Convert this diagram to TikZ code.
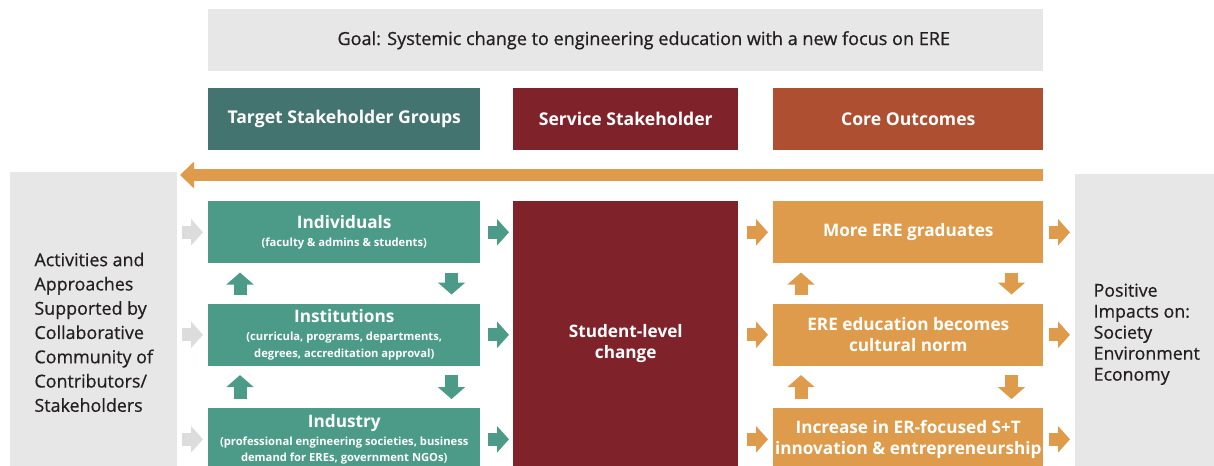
\documentclass[tikz,border=0pt]{standalone}
\usepackage{fontspec}
\setmainfont{Open Sans}
\newfontfamily\semib{Open Sans}[FakeBold=0.6]
\usetikzlibrary{positioning,calc,arrows.meta}

\definecolor{panelgray}{HTML}{E6E7E6}
\definecolor{arrowgray}{HTML}{DCDCDC}
\definecolor{headteal}{HTML}{43746F}
\definecolor{boxteal}{HTML}{4C9B89}
\definecolor{darkred}{HTML}{80222A}
\definecolor{rust}{HTML}{AF4F31}
\definecolor{ochre}{HTML}{DE9B4B}
\definecolor{inkblack}{HTML}{231F20}

\newcommand{\subf}{\fontsize{8.4}{10}\selectfont}

\tikzset{
  panel/.style={rectangle, fill=panelgray, inner sep=0pt, minimum height=240pt, align=left, text=inkblack},
  head/.style={rectangle, inner sep=0pt, minimum height=46.5pt, text=white, font=\bfseries\fontsize{13.2}{15}\selectfont},
  stage/.style={rectangle, inner sep=0pt, minimum height=46.5pt, align=center, text=white, font=\bfseries\fontsize{12.9}{15.5}\selectfont},
  grp/.style={stage, fill=boxteal, minimum width=204pt},
  outc/.style={stage, fill=ochre, minimum width=202.5pt},
  harrow/.style={line width=9.75pt, -{Triangle[length=9pt,width=19.5pt]}},
  varrow/.style={line width=9.75pt, -{Triangle[length=9pt,width=20pt]}, shorten <=6.75pt, shorten >=6.75pt},
}

\begin{document}
\begin{tikzpicture}[x=0.75pt, y=-0.75pt]
  \useasboundingbox (0,0) rectangle (1214,465);

  % goal and headers
  \node[rectangle, fill=panelgray, minimum width=626.25pt, minimum height=46.5pt, inner sep=0pt, anchor=north west,
        font=\semib\fontsize{13.55}{15}\selectfont, text=inkblack] (goal) at (208,9)
        {\hspace*{27pt}Goal: Systemic change to engineering education with a new focus on ERE};
  \node[head, fill=headteal, minimum width=204pt, anchor=north west] (tsg) at (208,88) {Target Stakeholder Groups};
  \node[head, fill=darkred, minimum width=168.75pt, anchor=north west] (svc) at (513,88) {Service Stakeholder};
  \node[head, fill=rust, minimum width=202.5pt, anchor=north west] (core) at (773,88) {Core Outcomes};

  % feedback arrow
  \coordinate (loopR) at (1043,175);
  \coordinate (loopL) at (180,175);
  \draw[ochre, line width=9pt, -{Triangle[length=10.5pt,width=19.5pt]}] (loopR) -- (loopL);

  % side panels
  \node[panel, minimum width=125.25pt, anchor=north west, font=\semib\fontsize{13.4}{18.2}\selectfont] (acts) at (10,172)
        {Activities and\\Approaches\\Supported by\\Collaborative\\Community of\\Contributors/\\Stakeholders};
  \node[panel, minimum width=107.25pt, anchor=north west, font=\semib\fontsize{13.3}{15.75}\selectfont] (impact) at (1075,174)
        {Positive\\Impacts on:\\Society\\Environment\\Economy};

  % target stakeholder groups
  \node[grp, anchor=north west] (ind) at (208,201)
        {Individuals\\[-2pt]\subf (faculty \& admins \& students)};
  \node[grp, below=30pt of ind] (ins)
        {Institutions\\[-2pt]\subf (curricula, programs, departments,\\[-3pt]\subf degrees, accreditation approval)};
  \node[grp, below=31.5pt of ins] (inds)
        {Industry\\[-2pt]\subf (professional engineering societies, business\\[-3pt]\subf demand for EREs, government NGOs)};

  % service stakeholder
  \node[stage, fill=darkred, minimum width=168.75pt, minimum height=213pt, anchor=north west] (stu) at (513,201)
        {Student-level\\change};

  % core outcomes
  \node[outc, anchor=north west] (out1) at (773,201) {More ERE graduates};
  \node[outc, below=30pt of out1] (out2) {ERE education becomes\\cultural norm};
  \node[outc, below=31.5pt of out2] (out3) {Increase in ER-focused S+T\\innovation \& entrepreneurship};

  % horizontal arrows
  \foreach \g/\o in {ind/out1, ins/out2, inds/out3}{
    \draw[harrow, arrowgray, shorten <=3pt, shorten >=3.75pt] (acts.east |- \g.west) -- (\g.west);
    \draw[harrow, boxteal, shorten <=5.25pt, shorten >=3pt] (\g.east) -- (stu.west |- \g.east);
    \draw[harrow, ochre, shorten <=6pt, shorten >=3.75pt] (stu.east |- \o.west) -- (\o.west);
    \draw[harrow, ochre, shorten <=3.75pt, shorten >=3.75pt] (\o.east) -- (impact.west |- \o.east);
  }

  % vertical arrows
  \foreach \a/\b in {ind/ins, ins/inds}{
    \draw[varrow, boxteal] ($(\b.north west)+(32,0)$) -- ($(\a.south west)+(32,0)$);
    \draw[varrow, boxteal] ($(\a.south east)+(-29,0)$) -- ($(\b.north east)+(-29,0)$);
  }
  \foreach \a/\b in {out1/out2, out2/out3}{
    \draw[varrow, ochre] ($(\b.north west)+(28,0)$) -- ($(\a.south west)+(28,0)$);
    \draw[varrow, ochre] ($(\a.south east)+(-32,0)$) -- ($(\b.north east)+(-32,0)$);
  }
\end{tikzpicture}
\end{document}
